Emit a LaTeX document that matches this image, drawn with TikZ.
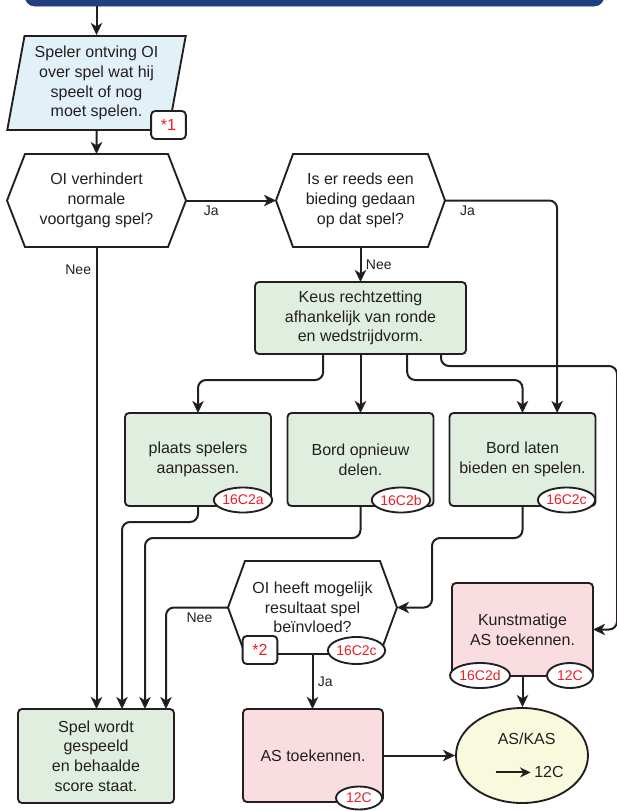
\documentclass[tikz,border=0pt]{standalone}
\usepackage{fontspec}
\setmainfont{Liberation Sans}
\usetikzlibrary{arrows.meta,shapes.geometric}
\definecolor{linec}{HTML}{231F20}
\definecolor{barblue}{HTML}{1F3F7D}
\definecolor{infoblue}{HTML}{E2F1F7}
\definecolor{boxgreen}{HTML}{E0EEE0}
\definecolor{boxpink}{HTML}{FADDE1}
\definecolor{kasyellow}{HTML}{F9F9DE}
\definecolor{refred}{HTML}{EE1D25}
\newcommand\hexframe[2]{%
	\draw[hexline] ([xshift=#2]#1.north west) -- ([xshift=-#2]#1.north east) -- (#1.east)
		-- ([xshift=-#2]#1.south east) -- ([xshift=#2]#1.south west) -- (#1.west) -- cycle;}

\begin{document}
\begin{tikzpicture}[x=0.75pt,y=-0.75pt,
	every node/.style={font=\fontsize{12}{14.8}\selectfont,text=linec},
	bar/.style={draw=barblue,fill=barblue,rounded corners=7pt,minimum width=434pt,minimum height=27pt},
	io/.style={trapezium,trapezium left angle=79,trapezium right angle=101,trapezium stretches=true,
		draw=linec,line width=1.4pt,fill=infoblue,align=center,minimum width=134pt,minimum height=70.5pt,inner sep=2pt},
	hex/.style={align=center,outer sep=0pt,minimum height=69.75pt},
	hexline/.style={draw=linec,line width=1.4pt,line join=miter},
	box/.style={draw=linec,line width=1.4pt,rounded corners=3pt,align=center,outer sep=0pt},
	greenbox/.style={box,fill=boxgreen},
	pinkbox/.style={box,fill=boxpink},
	tag/.style={draw=linec,line width=1.4pt,fill=white,rounded corners=3pt,text=refred,minimum width=26pt,minimum height=21pt,inner sep=0pt},
	ref/.style={ellipse,draw=linec,line width=1.4pt,fill=white,text=refred,inner sep=0pt,font=\fontsize{10.5}{12}\selectfont},
	lbl/.style={font=\fontsize{10.5}{12}\selectfont},
	arr/.style={draw=linec,line width=1.5pt,-{Stealth[length=9pt,width=8.5pt,inset=2.5pt]},rounded corners=6pt}
]
	\useasboundingbox (0,0) rectangle (617,811);
	\node[bar] at (314.5,-12) (start) {};
	\node[io] at (96.5,83) (info) {Speler ontving OI\\over spel wat hij\\speelt of nog\\moet spelen.};
	\node[tag] at (168.5,125) (tag1) {*1};
	\node[hex,minimum width=134.25pt] at (96.5,200.5) (verh) {OI verhindert\\normale\\voortgang spel?};
	\hexframe{verh}{13.5pt}
	\node[hex,minimum width=126.75pt] at (360.5,200.5) (bied) {Is er reeds een\\bieding gedaan\\op dat spel?};
	\hexframe{bied}{12.75pt}
	\node[greenbox,minimum width=158.25pt,minimum height=54pt] at (360.5,318) (keus) {Keus rechtzetting\\afhankelijk van ronde\\en wedstrijdvorm.};
	\node[greenbox,minimum width=109.5pt,minimum height=69.75pt] at (198,459.5) (plaats) {plaats spelers\\aanpassen.};
	\node[greenbox,minimum width=109.5pt,minimum height=69.75pt] at (360.5,459.5) (opnieuw) {Bord opnieuw\\delen.};
	\node[greenbox,minimum width=109.5pt,minimum height=69.75pt] at (522.5,459.5) (laten) {Bord laten\\bieden en spelen.};
	\node[ref,minimum width=42pt,minimum height=18.75pt] at (243,500) (refa) {16C2a};
	\node[ref,minimum width=42pt,minimum height=18.75pt] at (401,500) (refb) {16C2b};
	\node[ref,minimum width=42pt,minimum height=18.75pt] at (566.5,500) (refc) {16C2c};
	\node[hex,minimum width=126.75pt] at (312.5,607.5) (invl) {OI heeft mogelijk\\resultaat spel\\beïnvloed?};
	\hexframe{invl}{12.75pt}
	\node[tag] at (260,650) (tag2) {*2};
	\node[ref,minimum width=42.75pt,minimum height=20.25pt] at (356.5,650.5) (refc2) {16C2c};
	\node[greenbox,minimum width=117pt,minimum height=70.5pt] at (96,756) (spel) {Spel wordt\\gespeeld\\en behaalde\\score staat.};
	\node[pinkbox,minimum width=105pt,minimum height=69.75pt] at (313,755.5) (astoe) {AS toekennen.};
	\node[ref,minimum width=34.5pt,minimum height=17.25pt] at (359,798) (refas) {12C};
	\node[pinkbox,minimum width=105.75pt,minimum height=69.75pt] at (522.5,629.5) (kunst) {Kunstmatige\\AS toekennen.};
	\node[ref,minimum width=45pt,minimum height=18.75pt] at (480,675.5) (refd) {16C2d};
	\node[ref,minimum width=34.5pt,minimum height=18.75pt] at (570,675.5) (refk) {12C};
	\node[ellipse,draw=linec,line width=1.4pt,fill=kasyellow,minimum width=99pt,minimum height=71.25pt,align=center,inner sep=0pt] at (522,755.5) (kas)
		{\hspace*{7pt}AS/KAS\\[10pt]\hspace*{11pt}\tikz[baseline=-4pt]\draw[-{Stealth[length=8pt,width=7.5pt]},line width=1.5pt] (0pt,0pt) -- (26pt,0pt);\,12C};
	\draw[arr] (info.north |- start.south) -- (info.north);
	\draw[arr] (info.south) -- (verh.north);
	\draw[arr] (verh.east) -- (bied.west) node[lbl,pos=0.28,below] {Ja};
	\draw[arr] (bied.east) -| ([xshift=26pt]laten.north) node[lbl,pos=0.1,below] {Ja};
	\draw[arr] (bied.south) -- (keus.north) node[lbl,midway,right] {Nee};
	\draw[arr] (verh.south) -- (verh.south |- spel.north) node[lbl,pos=0.05,left] {Nee};
	\draw[arr] ([xshift=-28pt]keus.south) -- ++(0,26) -| (plaats.north);
	\draw[arr] (keus.south) -- (opnieuw.north);
	\draw[arr] ([xshift=35pt]keus.south) -- ++(0,26) -| (laten.north);
	\draw[arr] ([xshift=-18.75pt]keus.south east) -- ++(0,12) -| ([xshift=18pt]kunst.east) -- (kunst.east);
	\draw[arr] (plaats.south) -- ++(0,16) -| ([xshift=19.5pt]spel.north);
	\draw[arr] (opnieuw.south) -- ++(0,32) -| ([xshift=36.75pt]spel.north);
	\draw[arr] (invl.west) -| ([xshift=52.5pt]spel.north) node[lbl,pos=0.23,below] {Nee};
	\draw[arr] (laten.south) -- ++(0,32) -| ([xshift=26.25pt]invl.east) -- (invl.east);
	\draw[arr] (invl.south) -- (invl.south |- astoe.north) node[lbl,midway,right] {Ja};
	\draw[arr] (astoe.east) -- (kas.west);
	\draw[arr] (kunst.south) -- (kunst.south |- kas.north);
\end{tikzpicture}
\end{document}
